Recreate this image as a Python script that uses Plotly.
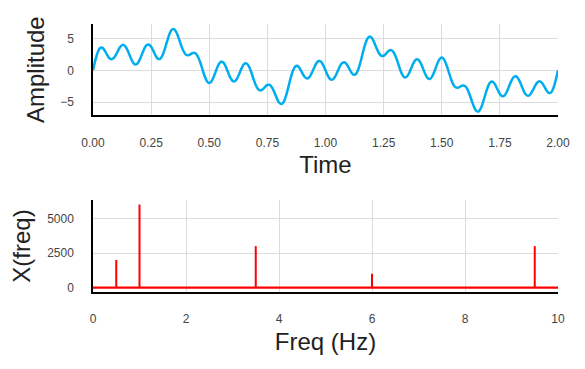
import plotly.graph_objects as go

time_s = [round(i * 0.01, 2) for i in range(201)]
amplitude = [
    0.00, 1.57, 2.81, 3.49, 3.55, 3.13, 2.49, 1.94, 1.73, 1.95, 2.53, 3.24, 3.81,
    4.00, 3.72, 3.03, 2.15, 1.37, 0.94, 1.03, 1.61, 2.48, 3.35, 3.95, 4.07, 3.71,
    3.02, 2.28, 1.81, 1.84, 2.44, 3.49, 4.72, 5.79, 6.42, 6.43, 5.86, 4.90, 3.83,
    2.96, 2.46, 2.37, 2.54, 2.73, 2.69, 2.24, 1.38, 0.25, -0.88, -1.70, -2.00, -1.71,
    -0.95, 0.03, 0.88, 1.34, 1.25, 0.66, -0.23, -1.10, -1.65, -1.71, -1.26, -0.46, 0.39,
    0.99, 1.10, 0.66, -0.23, -1.32, -2.32, -2.97, -3.18, -2.99, -2.60, -2.29, -2.29, -2.69,
    -3.45, -4.33, -5.05, -5.31, -4.97, -4.02, -2.67, -1.23, -0.05, 0.61, 0.68, 0.26, -0.41,
    -1.01, -1.28, -1.09, -0.49, 0.33, 1.06, 1.46, 1.38, 0.83, 0.00, -0.83, -1.38, -1.46,
    -1.06, -0.33, 0.49, 1.09, 1.28, 1.01, 0.41, -0.26, -0.68, -0.61, 0.05, 1.23, 2.67,
    4.02, 4.97, 5.31, 5.05, 4.33, 3.45, 2.69, 2.29, 2.29, 2.60, 2.99, 3.18, 2.97,
    2.32, 1.32, 0.23, -0.66, -1.10, -0.99, -0.39, 0.46, 1.26, 1.71, 1.65, 1.10, 0.23,
    -0.66, -1.25, -1.34, -0.88, -0.03, 0.95, 1.71, 2.00, 1.70, 0.88, -0.25, -1.38, -2.24,
    -2.69, -2.73, -2.54, -2.37, -2.46, -2.96, -3.83, -4.90, -5.86, -6.43, -6.42, -5.79, -4.72,
    -3.49, -2.44, -1.84, -1.81, -2.28, -3.02, -3.71, -4.07, -3.95, -3.35, -2.48, -1.61, -1.03,
    -0.94, -1.37, -2.15, -3.03, -3.72, -4.00, -3.81, -3.24, -2.53, -1.95, -1.73, -1.94, -2.49,
    -3.13, -3.55, -3.49, -2.81, -1.57, 0.00,
]

# ---- spectrum (bins every 0.5 Hz from 0 to 10 Hz) ----
freq_hz = [0.0, 0.5, 1.0, 1.5, 2.0, 2.5, 3.0, 3.5, 4.0, 4.5, 5.0,
           5.5, 6.0, 6.5, 7.0, 7.5, 8.0, 8.5, 9.0, 9.5, 10.0]
x_freq = [0, 2000, 6000, 0, 0, 0, 0, 3000, 0, 0, 0,
          0, 1000, 0, 0, 0, 0, 0, 0, 3000, 0]

time_ticks = [0, 0.25, 0.5, 0.75, 1.0, 1.25, 1.5, 1.75, 2.0]
amp_ticks = [-5, 0, 5]
freq_ticks = [0, 2, 4, 6, 8, 10]
mag_ticks = [0, 2500, 5000]

SIG_COLOR = "#00AEEF"
STEM_COLOR = "red"

fig = go.Figure()
fig.add_trace(go.Scatter(x=time_s, y=amplitude, mode="lines", line_shape="spline",
                         line=dict(color=SIG_COLOR, width=2.5), xaxis="x", yaxis="y",
                         showlegend=False, hoverinfo="skip"))

# stems: vertical segments from 0 to each magnitude
stem_x, stem_y = [], []
for f, m in zip(freq_hz, x_freq):
    if m > 0:
        stem_x += [f, f, None]
        stem_y += [0, m, None]
fig.add_trace(go.Scatter(x=stem_x, y=stem_y, mode="lines",
                         line=dict(color=STEM_COLOR, width=2), xaxis="x2", yaxis="y2",
                         showlegend=False, hoverinfo="skip"))
# baseline
fig.add_trace(go.Scatter(x=freq_hz, y=[0] * len(freq_hz), mode="lines",
                         line=dict(color=STEM_COLOR, width=2.2), xaxis="x2", yaxis="y2",
                         showlegend=False, hoverinfo="skip"))

FONT = "Liberation Sans, Arial, sans-serif"
tickfont = dict(family=FONT, size=12, color="#444")
titlefont = dict(family=FONT, size=24, color="#222")

common = dict(showgrid=True, gridcolor="#dcdcdc", gridwidth=1, zeroline=False,
              showline=True, linecolor="black", linewidth=1.5, ticks="",
              tickfont=tickfont, automargin=False, ticklabelstandoff=15)

fig.update_layout(
    width=585, height=369,
    margin=dict(l=85, r=35, t=16, b=85),
    plot_bgcolor="white", paper_bgcolor="white",
    xaxis=dict(domain=[0, 1], anchor="y", range=[0, 2], tickvals=time_ticks,
               tickformat=".2f", title=dict(text="Time", font=titlefont, standoff=8),
               **common),
    yaxis=dict(domain=[0.659, 1], anchor="x", range=[-7.08, 7.28], tickvals=amp_ticks,
               title=dict(text="Amplitude", font=titlefont, standoff=9), **common),
    xaxis2=dict(domain=[0, 1], anchor="y2", range=[0, 10], tickvals=freq_ticks,
                title=dict(text="Freq (Hz)", font=titlefont, standoff=8), **common),
    yaxis2=dict(domain=[0, 0.343], anchor="x2", range=[-309, 6322], tickvals=mag_ticks,
                title=dict(text="X(freq)", font=titlefont, standoff=10), **common),
)

fig.write_html("out.html")
